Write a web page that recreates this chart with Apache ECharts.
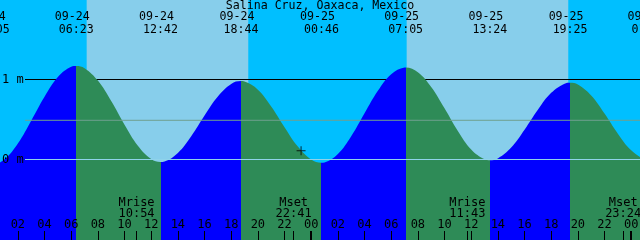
<!DOCTYPE html>
<html><head><meta charset="utf-8">
<script src="https://cdn.jsdelivr.net/npm/echarts@6/dist/echarts.min.js"></script>
<style>html,body{margin:0;padding:0;background:#00BFFF}#c{width:640px;height:240px}</style>
</head><body><div id="c"></div>
<script>
// ---------------- data ----------------
const titleText = 'Salina Cruz, Oaxaca, Mexico';

// hours since 09-24 00:00
const tideTimes = [-2, -1, 0, 0.083, 1, 2, 3, 4, 5, 6, 6.383, 7, 8, 9, 10, 11, 12, 12.7,
  13, 14, 15, 16, 17, 18, 18.733, 19, 20, 21, 22, 23, 24, 24.767,
  25, 26, 27, 28, 29, 30, 31, 31.083, 32, 33, 34, 35, 36, 37, 37.4,
  38, 39, 40, 41, 42, 43, 43.417, 44, 45, 46, 47, 48, 49, 49.333, 50, 51];
const tideHeights = [0.25, 0.03, -0.059, -0.06, 0.003, 0.200, 0.484, 0.784, 1.030, 1.159, 1.17, 1.142, 0.986, 0.730, 0.434, 0.172, 0.006, -0.03,
  -0.024, 0.082, 0.291, 0.550, 0.788, 0.944, 0.98, 0.975, 0.873, 0.664, 0.404, 0.161, 0.000, -0.04,
  -0.036, 0.068, 0.290, 0.577, 0.858, 1.066, 1.149, 1.15, 1.091, 0.906, 0.640, 0.357, 0.125, 0.002, -0.01,
  0.014, 0.150, 0.373, 0.622, 0.833, 0.948, 0.96, 0.937, 0.800, 0.575, 0.323, 0.115, 0.007, 0.0, 0.03, 0.18];

const extremeTimes   = [0.083, 6.383, 12.7, 18.733, 24.767, 31.083, 37.4, 43.417, 49.333];
const extremeHeights = [-0.06, 1.17, -0.03, 0.98, -0.04, 1.15, -0.01, 0.96, 0.0];
const extremeDates   = ['09-24', '09-24', '09-24', '09-24', '09-25', '09-25', '09-25', '09-25', '09-26'];
const extremeClock   = ['00:05', '06:23', '12:42', '18:44', '00:46', '07:05', '13:24', '19:25', '01:20'];

const sunriseTimes = [7.16, 31.16];
const sunsetTimes  = [19.28, 43.28];

const moonTimes = [10.9, 22.683, 35.717, 47.4];
const moonNames = ['Mrise', 'Mset', 'Mrise', 'Mset'];
const moonClock = ['10:54', '22:41', '11:43', '23:24'];

const hourTicks = [2, 4, 6, 8, 10, 12, 14, 16, 18, 20, 22, 24, 26, 28, 30, 32, 34, 36, 38, 40, 42, 44, 46, 48];
const hourLabels = ['02', '04', '06', '08', '10', '12', '14', '16', '18', '20', '22', '00',
  '02', '04', '06', '08', '10', '12', '14', '16', '18', '20', '22', '00'];
const midnightTicks = [24, 48];

const levelValues = [1, 0];
const levelLabels = ['1 m', '0 m'];
const mslValue = 0.49;

const nowTime = 23.24;
const nowHeight = 0.11;

// ---------------- layout / style ----------------
const FONT = 'DejaVu Sans Mono';
const FS = 12;
const W = 640, H = 240;
const PX_PER_HOUR = 40 / 3;
const HOUR0_X = -8.8;
const PAD = 30;
const xMin = (-PAD - HOUR0_X) / PX_PER_HOUR;
const xMax = (W + PAD - HOUR0_X) / PX_PER_HOUR;
const PX_PER_M = 80;
const yMax = 1.99375, yMin = yMax - H / PX_PER_M;
const LINE_START_X = 25;
const lineStartT = (LINE_START_X - HOUR0_X) / PX_PER_HOUR;

const NIGHT = '#00BFFF', DAY = '#87CEEB', RISE = '#0000FF', FALL = '#2E8B57';

const pieces = [];
const n = extremeTimes.length;
pieces.push({ lt: extremeTimes[0], color: extremeHeights[0] < extremeHeights[1] ? FALL : RISE });
for (let i = 0; i < n - 1; i++) {
  pieces.push({ gte: extremeTimes[i], lt: extremeTimes[i + 1], color: extremeHeights[i + 1] > extremeHeights[i] ? RISE : FALL });
}
pieces.push({ gte: extremeTimes[n - 1], color: extremeHeights[n - 1] < extremeHeights[n - 2] ? RISE : FALL });

const txt = { color: '#000', fontFamily: FONT, fontSize: FS };
const baseX = { type: 'value', gridIndex: 0, min: xMin, max: xMax, splitLine: { show: false },
  axisLine: { show: false, onZero: false }, z: 10 };

const option = {
  animation: false,
  backgroundColor: NIGHT,
  title: { text: titleText, left: 'center', top: 0, padding: 0,
    textStyle: Object.assign({}, txt, { fontWeight: 'normal', fontSize: 11.6 }) },
  grid: { left: -PAD, right: -PAD, top: 0, bottom: 0, containLabel: false, outerBoundsMode: 'none' },
  visualMap: { type: 'piecewise', show: false, dimension: 0, seriesIndex: 1, pieces: pieces },
  xAxis: [
    Object.assign({}, baseX, {
      position: 'bottom',
      axisTick: { inside: true, length: 9, lineStyle: { color: '#000', width: 1 }, customValues: hourTicks.concat(moonTimes) },
      axisLabel: Object.assign({ inside: true, margin: 9, customValues: hourTicks,
        formatter: v => hourLabels[hourTicks.indexOf(Math.round(v))] }, txt)
    }),
    Object.assign({}, baseX, {
      position: 'bottom',
      axisTick: { inside: true, length: 9, lineStyle: { color: '#000', width: 2 }, customValues: midnightTicks },
      axisLabel: { show: false }
    }),
    Object.assign({}, baseX, {
      position: 'bottom',
      axisTick: { show: false },
      axisLabel: Object.assign({ inside: true, margin: 21, lineHeight: 11, customValues: moonTimes,
        formatter: v => { const i = moonTimes.indexOf(v); return moonNames[i] + '\n' + moonClock[i]; } }, txt)
    }),
    Object.assign({}, baseX, {
      position: 'top',
      axisTick: { show: false },
      axisLabel: Object.assign({ inside: true, margin: 11, padding: [0, 8, 0, 0], customValues: extremeTimes,
        formatter: v => extremeDates[extremeTimes.indexOf(v)] }, txt, { fontSize: 11.6 })
    }),
    Object.assign({}, baseX, {
      position: 'top',
      axisTick: { show: false },
      axisLabel: Object.assign({ inside: true, margin: 23.5, customValues: extremeTimes,
        formatter: v => extremeClock[extremeTimes.indexOf(v)] }, txt, { fontSize: 11.6 })
    })
  ],
  yAxis: {
    type: 'value', min: yMin, max: yMax, position: 'left', offset: -PAD, z: 10,
    axisLine: { show: false, onZero: false }, axisTick: { show: false }, splitLine: { show: false },
    axisLabel: Object.assign({ inside: true, margin: 2, customValues: levelValues,
      formatter: v => levelLabels[levelValues.indexOf(v)] }, txt)
  },
  series: [
    { type: 'line', z: 0, data: [], silent: true,
      markArea: { silent: true, itemStyle: { color: DAY, opacity: 1 },
        data: sunriseTimes.map((t, i) => [{ xAxis: t }, { xAxis: sunsetTimes[i] }]) } },
    { type: 'line', z: 2, smooth: 0.4, symbol: 'none', silent: true,
      data: tideTimes.map((t, i) => [t, tideHeights[i]]),
      lineStyle: { width: 0 }, areaStyle: { opacity: 1, origin: 'start' } },
    { type: 'line', z: 1, symbol: 'none', silent: true,
      data: [[lineStartT, levelValues[0]], [xMax, levelValues[0]]],
      lineStyle: { color: '#000', width: 1 } },
    { type: 'line', z: 3, symbol: 'none', silent: true,
      data: [[lineStartT, mslValue], [xMax, mslValue]],
      lineStyle: { color: '#6fa08f', width: 1 } },
    { type: 'line', z: 3, symbol: 'none', silent: true,
      data: [[lineStartT, levelValues[1]], [xMax, levelValues[1]]],
      lineStyle: { color: '#8fd3ea', width: 1 } },
    { type: 'scatter', z: 4, silent: true, data: [[nowTime, nowHeight]],
      symbol: 'path://M4,0h1v4h4v1h-4v4h-1v-4h-4v-1h4z', symbolSize: 9,
      itemStyle: { color: '#000' } }
  ]
};

const chart = echarts.init(document.getElementById('c'), null, { renderer: 'canvas' });
chart.setOption(option);
</script>
</body></html>
